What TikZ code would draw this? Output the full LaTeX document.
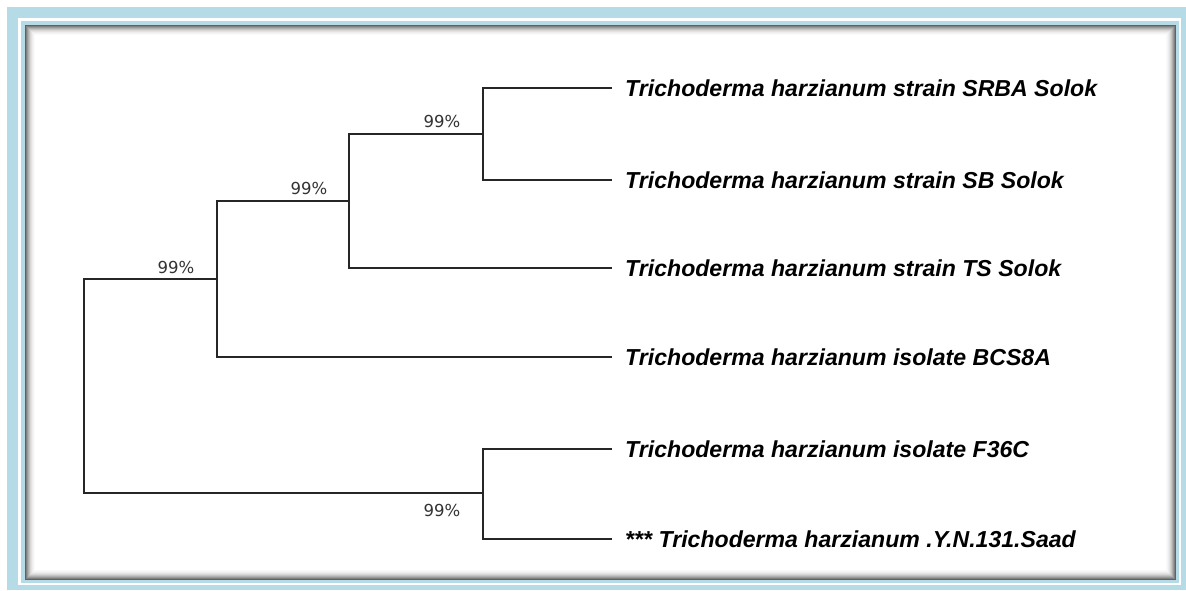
\documentclass[tikz,border=0pt]{standalone}
\usepackage{fontspec}
\usepackage{xcolor}
\usepackage{tikz}
\usetikzlibrary{positioning, calc, backgrounds}
\newfontfamily\leaffont{Liberation Sans}
\newfontfamily\pctfont{DejaVu Sans}
\definecolor{framecol}{HTML}{B5DCE6}

\begin{document}
\begin{tikzpicture}[
		  x=1pt, y=-1pt,
		  branch/.style={line width=1.2pt, black!85},
		  leaf/.style={
		    anchor=west,
		    inner xsep=13pt,
		    inner ysep=0pt,
		    font=\leaffont\bfseries\itshape\fontsize{23.1}{27}\selectfont
		  },
		  pct/.style={
		    inner sep=0pt,
		    font=\pctfont\fontsize{16.5}{19}\selectfont,
		    text=black!80
		  }
		]

		% --- frame ---
		\useasboundingbox (0,0) rectangle (1186,590);
		\fill[white] (0,0) rectangle (1186,590);
		\fill[framecol] (7,7) rectangle (1186,590);
		\draw[white, line width=2.5pt] (19.5,19.5) rectangle (1180,584);
		\fill[white] (25,25) rectangle (1176,580);
		\foreach \i/\g in {0/62,1/50,2/40,3/31,4/23,5/16,6/11,7/7,8/4,9/2}
		  \draw[black!\g, line width=1pt] (25.5+\i,25.5+\i) rectangle (1175.5-\i,579.5-\i);

		% --- leaves ---
		\node[leaf] (srba) at (612,88) {Trichoderma harzianum strain SRBA Solok};
		\node[leaf] (sb) at (612,180) {Trichoderma harzianum strain SB Solok};
		\node[leaf] (ts) at (612,268) {Trichoderma harzianum strain TS Solok};
		\node[leaf] (bcs) at (612,357) {Trichoderma harzianum isolate BCS8A};
		\node[leaf] (f36c) at (612,449) {Trichoderma harzianum isolate F36C};
		\node[leaf] (saad) at (612,539) {*** Trichoderma harzianum .Y.N.131.Saad};

		% --- inner nodes ---
		\coordinate (nA) at (483,134);
		\coordinate (nB) at (349,201);
		\coordinate (nC) at (217,279);
		\coordinate (root) at (84,385);
		\coordinate (nD) at (483,493);

		% --- branches ---
		\draw[branch] (srba.west) -| (nA) |- (sb.west);
		\draw[branch] (nA) -| (nB) |- (ts.west);
		\draw[branch] (nB) -| (nC) |- (bcs.west);
		\draw[branch] (nC) -| (root) |- (nD);
		\draw[branch] (f36c.west) -| (nD) |- (saad.west);

		% --- bootstrap values ---
		\node[pct] (bA) at (442,121) {99\%};
		\node[pct] (bB) at (309,188) {99\%};
		\node[pct] (bC) at (176,267) {99\%};
		\node[pct] (bD) at (442,510) {99\%};

		\end{tikzpicture}
\end{document}
